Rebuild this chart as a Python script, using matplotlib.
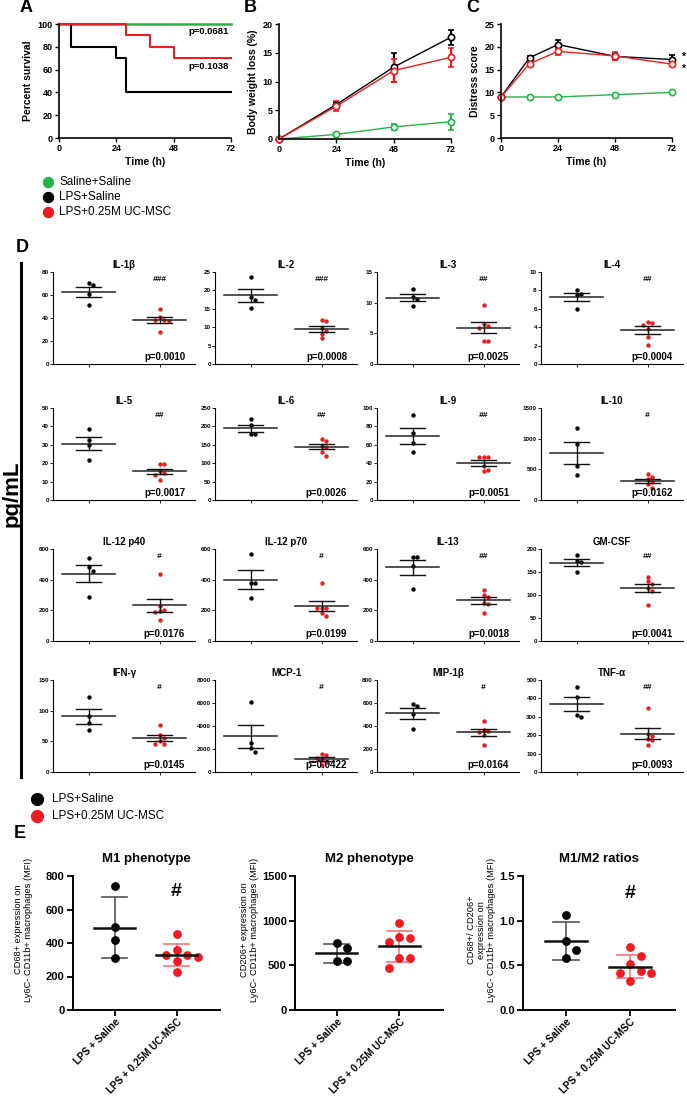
import numpy as np
import matplotlib
matplotlib.use("Agg")
import matplotlib.pyplot as plt
from matplotlib.lines import Line2D
import matplotlib.transforms as mtransforms

# ---------------- data ----------------
# Panel A: survival (Kaplan-Meier steps)
surv_t_green = [0, 72]
surv_green = [100, 100]
surv_t_black = [0, 5, 24, 28, 72]
surv_black = [100, 80, 70, 40, 40]
surv_t_red = [0, 28, 38, 48, 72]
surv_red = [100, 90, 80, 70, 70]
surv_p = ["p=0.0681", "p=0.1038"]

# Panel B: body weight loss
bw_time = [0, 24, 48, 72]
bw_green = [0, 0.8, 2.1, 3.0]
bw_green_err = [0, 0.25, 0.5, 1.4]
bw_black = [0, 6.0, 12.5, 17.7]
bw_black_err = [0, 0.5, 2.5, 1.3]
bw_red = [0, 5.7, 11.9, 14.2]
bw_red_err = [0, 0.9, 2.0, 1.7]

# Panel C: distress score
ds_time = [0, 12, 24, 48, 72]
ds_green = [9, 9, 9, 9.5, 10]
ds_green_err = [0, 0.15, 0.15, 0.2, 0.2]
ds_black = [9, 17.6, 20.5, 17.9, 17.2]
ds_black_err = [0, 0.4, 0.9, 0.6, 1.0]
ds_red = [9, 16.3, 19.0, 18.0, 16.2]
ds_red_err = [0, 0.6, 0.8, 0.8, 0.5]

group_labels_top = ["Saline+Saline", "LPS+Saline", "LPS+0.25M UC-MSC"]

# Panel D: cytokines
cytokines = ["IL-1β", "IL-2", "IL-3", "IL-4", "IL-5", "IL-6", "IL-9", "IL-10",
             "IL-12 p40", "IL-12 p70", "IL-13", "GM-CSF", "IFN-γ", "MCP-1", "MIP-1β", "TNF-α"]
cyt_ymax = [80, 25, 15, 10, 50, 250, 100, 1500, 600, 600, 600, 200, 150, 8000, 800, 500]
cyt_ystep = [20, 5, 5, 2, 10, 50, 20, 500, 200, 200, 200, 50, 50, 2000, 200, 100]
cyt_black = [[70.5, 68.5, 61, 51], [23.7, 18.3, 17.4, 15.2], [12.2, 11.0, 10.6, 9.5],
             [8.0, 7.6, 7.5, 6.0], [38.5, 32.5, 29.7, 21.7], [219, 204, 180, 178],
             [92, 73, 62, 52], [1177, 919, 550, 400], [540, 480, 455, 285],
             [565, 380, 378, 280], [545, 545, 490, 340], [186, 173, 172, 149],
             [123, 91, 80, 68], [6060, 2500, 2120, 1770], [594, 571, 507, 371],
             [460, 410, 310, 300]]
cyt_red = [[48, 41, 38, 38, 37.5, 28], [12.0, 11.8, 9.8, 9.0, 8.2, 7.0],
           [9.6, 6.5, 6.2, 5.8, 3.7, 3.7], [4.6, 4.5, 4.2, 3.8, 2.9, 2.1],
           [19.8, 19.4, 15.5, 14.5, 13.8, 11], [166, 160, 148, 143, 130, 120],
           [47, 46.5, 46.5, 37, 33, 31], [420, 380, 340, 300, 260, 190],
           [440, 228, 202, 196, 189, 135], [380, 218, 215, 212, 180, 162],
           [335, 297, 288, 245, 239, 185], [140, 130, 125, 115, 108, 78],
           [77, 60, 56, 50, 45, 45], [1550, 1520, 1200, 1050, 900, 600],
           [443, 362, 357, 348, 319, 238], [348, 206, 196, 181, 172, 148]]
cyt_p = ["p=0.0010", "p=0.0008", "p=0.0025", "p=0.0004", "p=0.0017", "p=0.0026",
         "p=0.0051", "p=0.0162", "p=0.0176", "p=0.0199", "p=0.0018", "p=0.0041",
         "p=0.0145", "p=0.0422", "p=0.0164", "p=0.0093"]
cyt_hash = ["###", "###", "##", "##", "##", "##", "##", "#",
            "#", "#", "##", "##", "#", "#", "#", "##"]
group_labels_d = ["LPS+Saline", "LPS+0.25M UC-MSC"]

# Panel E: macrophages
e_titles = ["M1 phenotype", "M2 phenotype", "M1/M2 ratios"]
e_ylabels = ["CD68+ expression on\nLy6C- CD11b+ macrophages (MFI)",
             "CD206+ expression on\nLy6C- CD11b+ macrophages (MFI)",
             "CD68+/ CD206+\nexpression on\nLy6C- CD11b+ macrophages (MFI)"]
e_xlabels = ["LPS + Saline", "LPS + 0.25M UC-MSC"]
m1_black = [740, 495, 420, 310]
m1_red = [452, 358, 328, 328, 314, 295, 226]
m2_black = [752, 696, 544, 544]
m2_red = [970, 815, 807, 759, 581, 581, 474]
ratio_black = [1.066, 0.772, 0.669, 0.577]
ratio_red = [0.70, 0.60, 0.51, 0.44, 0.41, 0.41, 0.32]
e_ymax = [800, 1500, 1.5]
e_ystep = [200, 500, 0.5]
e_hash = ["#", "", "#"]
e_hash_y = [708, None, 1.30]

# ---------------- style ----------------
GREEN = "#22b34b"
RED = "#ed1c24"
BLACK = "#000000"
W, H = 687, 1105
plt.rcParams['font.family'] = ['Liberation Sans', 'DejaVu Sans']
NARROW = ['Liberation Sans Narrow', 'Liberation Sans', 'DejaVu Sans']

fig = plt.figure(figsize=(W / 100, H / 100), dpi=100)


def add_ax(left, top, width, height):
    return fig.add_axes([left / W, 1 - (top + height) / H, width / W, height / H])


def fig_text(x, y, s, **kw):
    return fig.text(x / W, 1 - y / H, s, **kw)


def fig_marker(x, y, color, ms):
    fig.add_artist(Line2D([x / W], [1 - y / H], marker='o', color=color, ms=ms,
                          linestyle='none', transform=fig.transFigure))


def swarm(vals, wpx, xspan, hpx, yspan, d):
    vals = np.asarray(vals, float)
    py = vals * hpx / yspan
    offs = np.zeros(len(vals))
    placed = []
    for i in np.argsort(-py, kind='stable'):
        k = 0
        while True:
            o = ((k + 1) // 2) * (1 if k % 2 else -1) * d
            if all((o - po) ** 2 + (py[i] - pp) ** 2 >= (0.95 * d) ** 2 for po, pp in placed):
                break
            k += 1
        placed.append((o, py[i]))
        offs[i] = o * xspan / wpx
    return offs


def style_abc(ax):
    for s in ['top', 'right']:
        ax.spines[s].set_visible(False)
    for s in ['left', 'bottom']:
        ax.spines[s].set_linewidth(1.2)
    ax.tick_params(width=1.0, length=3, labelsize=6.5, pad=1.5)
    plt.setp(ax.get_xticklabels() + ax.get_yticklabels(), fontweight='bold')


# ---------------- Panel A ----------------
axA = add_ax(59, 24, 172, 114)
axA.step(surv_t_green, surv_green, where='post', color=GREEN, lw=1.8, clip_on=False)
axA.step(surv_t_black, surv_black, where='post', color=BLACK, lw=1.5, clip_on=False)
axA.step(surv_t_red, surv_red, where='post', color=RED, lw=1.5, clip_on=False)
axA.set_xlim(0, 72)
axA.set_ylim(0, 100)
axA.set_xticks([0, 24, 48, 72])
axA.set_yticks(np.arange(0, 101, 20))
axA.set_xlabel("Time (h)", fontsize=7.5, fontweight='bold', labelpad=3)
axA.set_ylabel("Percent survival", fontsize=7.5, fontweight='bold', labelpad=3)
style_abc(axA)
axA.text(54, 93, surv_p[0], fontsize=6.8, fontweight='bold', va='center')
axA.text(54, 63, surv_p[1], fontsize=6.8, fontweight='bold', va='center')
fig_text(26, 8, "A", fontsize=13, fontweight='bold', ha='center', va='center')

# ---------------- Panel B ----------------
axB = add_ax(279, 24, 172, 115)
for y, e, c in [(bw_green, bw_green_err, GREEN), (bw_black, bw_black_err, BLACK), (bw_red, bw_red_err, RED)]:
    axB.errorbar(bw_time, y, yerr=e, color=c, marker='o', mfc='white', ms=4.5, mew=1.2,
                 lw=1.0, elinewidth=1.6, capsize=2.5, capthick=1.6, clip_on=False)
axB.set_xlim(0, 72)
axB.set_ylim(0, 20)
axB.set_xticks([0, 24, 48, 72])
axB.set_yticks(np.arange(0, 21, 5))
axB.set_xlabel("Time (h)", fontsize=7.5, fontweight='bold', labelpad=3)
axB.set_ylabel("Body weight loss (%)", fontsize=7.5, fontweight='bold', labelpad=3)
style_abc(axB)
fig_text(250, 8, "B", fontsize=13, fontweight='bold', ha='center', va='center')

# ---------------- Panel C ----------------
axC = add_ax(501, 24, 171, 114)
for y, e, c in [(ds_green, ds_green_err, GREEN), (ds_black, ds_black_err, BLACK), (ds_red, ds_red_err, RED)]:
    axC.errorbar(ds_time, y, yerr=e, color=c, marker='o', mfc='white', ms=4.5, mew=1.2,
                 lw=1.0, elinewidth=1.6, capsize=2.5, capthick=1.6, clip_on=False)
axC.set_xlim(0, 72)
axC.set_ylim(0, 25)
axC.set_xticks([0, 24, 48, 72])
axC.set_yticks(np.arange(0, 26, 5))
axC.set_xlabel("Time (h)", fontsize=7.5, fontweight='bold', labelpad=3)
axC.set_ylabel("Distress score", fontsize=7.5, fontweight='bold', labelpad=3)
style_abc(axC)
axC.text(76.5, ds_black[-1] + 0.6, "*", fontsize=7.5, fontweight='bold', ha='center', va='center', clip_on=False)
axC.text(76.5, ds_red[-1] - 1.0, "*", fontsize=7.5, fontweight='bold', ha='center', va='center', clip_on=False)
fig_text(473, 8, "C", fontsize=13, fontweight='bold', ha='center', va='center')

# legend A-C
for i, (lab, c) in enumerate(zip(group_labels_top, [GREEN, BLACK, RED])):
    y = 182 + 15 * i
    fig_marker(48, y, c, 7.2)
    fig_text(59, y, lab, fontsize=8.5, va='center', ha='left')

# ---------------- Panel D ----------------
fig_text(22, 248, "D", fontsize=13, fontweight='bold', ha='center', va='center')
fig_text(12, 494, "pg/mL", fontsize=16, fontweight='bold', rotation=90, ha='center', va='center')
fig.add_artist(Line2D([21 / W, 21 / W], [1 - 263 / H, 1 - 777 / H], color='k', lw=2.2,
                      transform=fig.transFigure))

cols_left = [53, 215, 377, 541]
rows_top = [272, 408, 549, 680]
DW, DH = 142, 92
for i, name in enumerate(cytokines):
    r, c = divmod(i, 4)
    ax = add_ax(cols_left[c], rows_top[r], DW, DH)
    ymax = cyt_ymax[i]
    ax.set_xlim(-0.5, 1.5)
    ax.set_ylim(0, ymax)
    for g, (vals, col) in enumerate([(cyt_black[i], BLACK), (cyt_red[i], RED)]):
        vals = np.asarray(vals, float)
        offs = swarm(vals, DW, 2.0, DH, ymax, 4.6)
        ax.scatter(g + offs, vals, s=10, color=col, zorder=3, linewidths=0, clip_on=False)
        m = vals.mean()
        sem = vals.std(ddof=1) / np.sqrt(len(vals))
        ax.plot([g - 0.38, g + 0.38], [m, m], color='#222222', lw=1.1, zorder=4)
        ax.plot([g, g], [m - sem, m + sem], color='#111111', lw=1.0, zorder=4)
        for yy in (m - sem, m + sem):
            ax.plot([g - 0.17, g + 0.17], [yy, yy], color='#111111', lw=1.0, zorder=4)
    ax.set_yticks(np.arange(0, ymax + cyt_ystep[i] / 2, cyt_ystep[i]))
    ax.set_xticks([0, 1])
    ax.set_xticklabels([])
    for s in ['top', 'right']:
        ax.spines[s].set_visible(False)
    for s in ['left', 'bottom']:
        ax.spines[s].set_linewidth(0.8)
    ax.tick_params(axis='y', width=0.6, length=2, labelsize=4.5, pad=1)
    ax.tick_params(axis='x', width=0.6, length=2)
    plt.setp(ax.get_yticklabels(), fontweight='bold', family=NARROW)
    ax.set_title(name, fontsize=7, fontweight='bold', pad=3, family=NARROW)
    ax.text(0.93, 0.02, cyt_p[i], transform=ax.transAxes, ha='right', va='bottom',
            fontsize=7, fontweight='bold', family=NARROW)
    tr = mtransforms.blended_transform_factory(ax.transData, ax.transAxes)
    ax.text(1, 0.92, cyt_hash[i], transform=tr, ha='center', va='center',
            fontsize=6, fontweight='bold', style='italic', family=NARROW)

# legend D
for i, (lab, c) in enumerate(zip(group_labels_d, [BLACK, RED])):
    y = 799 + 17 * i
    fig_marker(37, y, c, 8.5)
    fig_text(52, y, lab, fontsize=8.5, va='center', ha='left')

# ---------------- Panel E ----------------
fig_text(20, 833, "E", fontsize=13, fontweight='bold', ha='center', va='center')
e_boxes = [(73, 876, 147, 134), (295, 876, 148, 134), (523, 876, 152, 134)]
e_black = [m1_black, m2_black, ratio_black]
e_red = [m1_red, m2_red, ratio_red]
e_label_x = [-0.27, -0.24, -0.18]
for j in range(3):
    l, t, w, h = e_boxes[j]
    ax = add_ax(l, t, w, h)
    ymax = e_ymax[j]
    ax.set_xlim(-0.67, 1.7)
    ax.set_ylim(0, ymax)
    for g, (vals, col, ecol) in enumerate([(e_black[j], BLACK, '#555555'), (e_red[j], RED, '#f07a7a')]):
        vals = np.asarray(vals, float)
        offs = swarm(vals, w, 2.37, h, ymax, 10.5)
        ax.scatter(g + offs, vals, s=40, color=col, zorder=3, linewidths=0, clip_on=False)
        m = vals.mean()
        sd = vals.std(ddof=1)
        ax.plot([g, g], [m - sd, m + sd], color=ecol, lw=1.2, zorder=2)
        for yy in (m - sd, m + sd):
            ax.plot([g - 0.2, g + 0.2], [yy, yy], color=ecol, lw=1.2, zorder=2)
        ax.plot([g - 0.33, g + 0.33], [m, m], color='#111111', lw=1.8, zorder=4)
    if e_hash[j]:
        ax.text(1, e_hash_y[j], e_hash[j], ha='center', va='center', fontsize=14, fontweight='bold')
    yt = np.arange(0, ymax + e_ystep[j] / 2, e_ystep[j])
    ax.set_yticks(yt)
    if j == 2:
        ax.set_yticklabels([f"{v:.1f}" for v in yt])
    ax.set_xticks([0, 1])
    ax.set_xticklabels(e_xlabels, rotation=45, ha='right', rotation_mode='anchor',
                       fontsize=7.2, fontweight='bold')
    for s in ['top', 'right']:
        ax.spines[s].set_visible(False)
    for s in ['left', 'bottom']:
        ax.spines[s].set_linewidth(1.4)
    ax.tick_params(axis='y', width=1.3, length=4, labelsize=8, pad=2)
    ax.tick_params(axis='x', width=1.3, length=4, pad=1)
    plt.setp(ax.get_yticklabels(), fontweight='bold')
    ax.set_title(e_titles[j], fontsize=9.5, fontweight='bold', pad=10)
    ax.set_ylabel(e_ylabels[j], fontsize=6.7, linespacing=1.15)
    ax.yaxis.set_label_coords(e_label_x[j], 0.6)

fig.savefig("out.png", dpi=100)
